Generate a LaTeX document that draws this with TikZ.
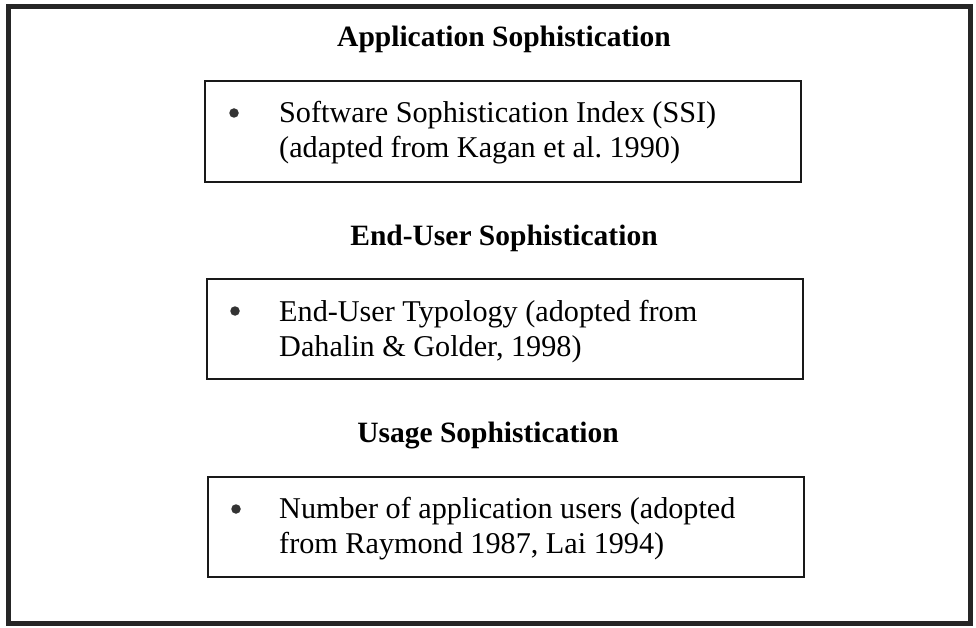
\documentclass[tikz,border=0pt]{standalone}
\usepackage{fontspec}
\setmainfont{Liberation Serif}
\begin{document}
\begin{tikzpicture}[x=1pt,y=-1pt,
  outer/.style={draw=black!85, line width=5pt},
  itembox/.style={draw=black!90, line width=1.6pt},
  heading/.style={font=\fontsize{29.5}{35}\selectfont\bfseries, anchor=base, inner sep=0pt},
  itemtext/.style={font=\fontsize{30.2}{35}\selectfont, anchor=base west, inner sep=0pt},
  bullet/.style={circle, fill=black!80, inner sep=0pt, minimum size=9.5pt}]
\useasboundingbox (0,0) rectangle (976,628);
\draw[outer] (8,7) rectangle (970,623);

\node[heading] (h1) at (504,47) {Application Sophistication};
\draw[itembox] (205,81) rectangle (801,182);
\node[bullet] (b1) at (234,113) {};
\node[itemtext] (t1a) at (279,123) {Software Sophistication Index (SSI)};
\node[itemtext] (t1b) at (279,158) {(adapted from Kagan et al.\ 1990)};

\node[heading] (h2) at (504,245) {End-User Sophistication};
\draw[itembox] (207,279) rectangle (803,379);
\node[bullet] (b2) at (235,311) {};
\node[itemtext] (t2a) at (279,321) {End-User Typology (adopted from};
\node[itemtext] (t2b) at (279,356) {Dahalin \& Golder, 1998)};

\node[heading] (h3) at (488,442) {Usage Sophistication};
\draw[itembox] (208,477) rectangle (804,577);
\node[bullet] (b3) at (236,509) {};
\node[itemtext] (t3a) at (279,518) {Number of application users (adopted};
\node[itemtext] (t3b) at (279,553) {from Raymond 1987, Lai 1994)};
\end{tikzpicture}
\end{document}
